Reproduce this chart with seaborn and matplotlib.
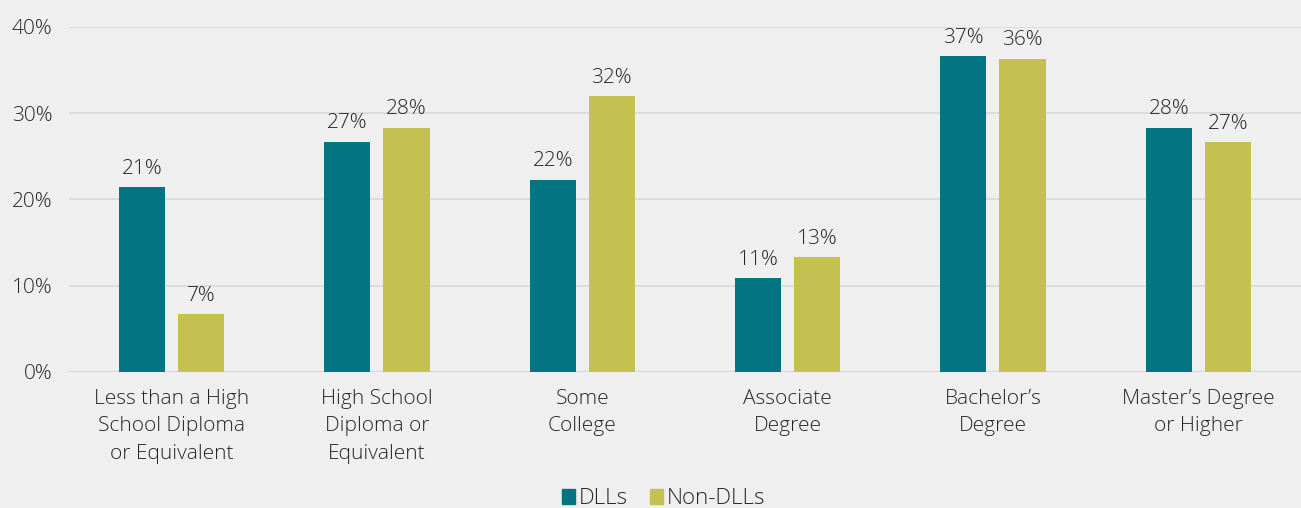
import pandas as pd
import matplotlib.pyplot as plt
import matplotlib.patches as mpatches
import seaborn as sns

categories = [
    "Less than a High\nSchool Diploma\nor Equivalent",
    "High School\nDiploma or\nEquivalent",
    "Some\nCollege",
    "Associate\nDegree",
    "Bachelor\u2019s\nDegree",
    "Master\u2019s Degree\nor Higher",
]
dlls = [21.4, 26.7, 22.3, 10.9, 36.6, 28.3]
non_dlls = [6.7, 28.3, 32.0, 13.3, 36.3, 26.6]
series = ["DLLs", "Non-DLLs"]
colors = ["#037482", "#C5C150"]

df = pd.DataFrame({
    "category": categories * 2,
    "group": [series[0]] * len(categories) + [series[1]] * len(categories),
    "value": dlls + non_dlls,
})

sns.set_style("white")
plt.rcParams['font.family'] = ['Open Sans', 'DejaVu Sans']
plt.rcParams['font.weight'] = 'light'
bg = "#EFEFEF"
text_color = "#262626"
fs = 15

fig = plt.figure(figsize=(13.01, 5.08), dpi=100, facecolor=bg)
ax = fig.add_axes([0.053, 0.268, 0.947, 0.679])
ax.set_facecolor(bg)

sns.barplot(data=df, x="category", y="value", hue="group", order=categories,
            hue_order=series, palette=colors, width=0.575, gap=0.22,
            saturation=1, ax=ax, legend=False, edgecolor="none")

for container in ax.containers:
    ax.bar_label(container, labels=[f"{v.get_height():.0f}%" for v in container],
                 padding=6, fontsize=fs, color=text_color)

ax.set_ylim(0, 40)
ax.set_yticks([0, 10, 20, 30, 40])
ax.set_yticklabels([f"{t}%" for t in [0, 10, 20, 30, 40]])
ax.set_xlim(-0.5, len(categories) - 0.5)
ax.grid(axis='y', color="#D9D9D9", linewidth=1.2)
ax.set_axisbelow(True)
for s in ["top", "right", "left", "bottom"]:
    ax.spines[s].set_visible(False)
ax.axhline(0, color="#D4D4D4", linewidth=1.5, zorder=0.5)
ax.tick_params(axis='x', length=0, labelsize=fs, colors=text_color, pad=12)
ax.tick_params(axis='y', length=0, labelsize=fs, colors=text_color, pad=12)
for lbl in ax.get_xticklabels():
    lbl.set_linespacing(1.5)
ax.set_xlabel("")
ax.set_ylabel("")

handles = [mpatches.Patch(color=c, label=s) for c, s in zip(colors, series)]
fig.legend(handles=handles, loc='center', bbox_to_anchor=(0.51, 0.018), ncol=2,
           frameon=False, fontsize=16, handlelength=0.6, handleheight=0.6,
           handletextpad=0.15, columnspacing=1.0, labelcolor=text_color)

fig.savefig("out.png", dpi=100, facecolor=bg)
